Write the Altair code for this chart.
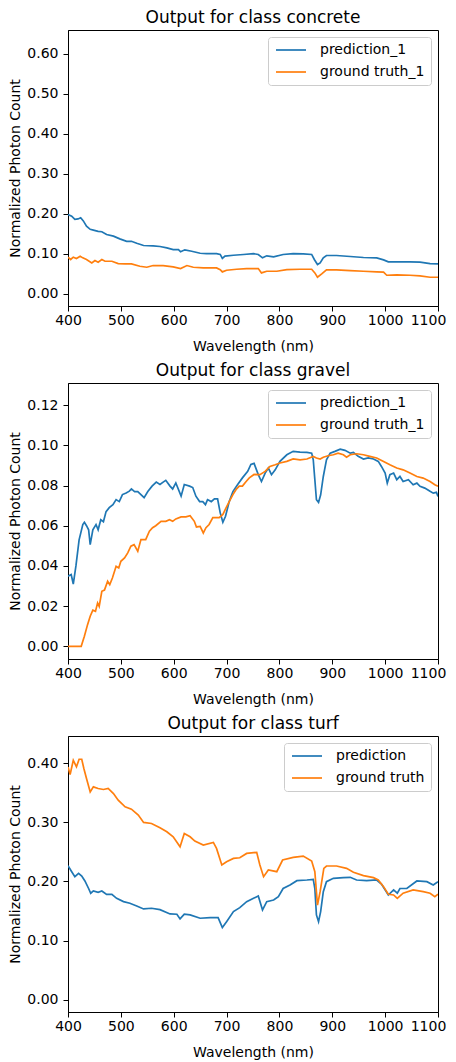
import altair as alt
import pandas as pd

BLUE = "#1f77b4"
ORANGE = "#ff7f0e"
FONT = "DejaVu Sans"

# ---------- concrete ----------
concrete_pred_wl = [400, 407, 413, 419, 424, 429, 435, 442, 448, 457, 464, 473, 486, 498, 511, 520, 530, 543, 561, 574,
                    587, 599, 609, 613, 621, 634, 650, 662, 681, 688, 692, 697, 713, 732, 751, 760, 768, 776, 789, 807,
                    826, 845, 861, 866, 872, 877, 883, 889, 908, 934, 959, 984, 997, 1006, 1022, 1047, 1066, 1085, 1100]
concrete_pred = [0.198, 0.194, 0.186, 0.187, 0.190, 0.182, 0.169, 0.161, 0.159, 0.156, 0.155, 0.148, 0.144, 0.137, 0.131,
                 0.131, 0.126, 0.1205, 0.1197, 0.118, 0.1146, 0.110, 0.110, 0.1046, 0.1096, 0.106, 0.101, 0.100, 0.100,
                 0.098, 0.088, 0.094, 0.096, 0.098, 0.100, 0.098, 0.0895, 0.0946, 0.092, 0.098, 0.100, 0.0996, 0.098,
                 0.0854, 0.0728, 0.077, 0.0895, 0.0954, 0.0954, 0.0929, 0.0904, 0.0895, 0.0845, 0.0795, 0.0795, 0.0795,
                 0.0787, 0.0753, 0.0745]
concrete_gt_wl = [400, 405, 410, 416, 423, 428, 435, 445, 451, 457, 464, 470, 483, 495, 508, 520, 536, 549, 561, 580,
                  599, 613, 625, 637, 656, 681, 688, 692, 700, 719, 738, 760, 766, 776, 795, 814, 839, 861, 867, 872,
                  880, 889, 908, 934, 959, 984, 997, 1003, 1022, 1047, 1066, 1085, 1100]
concrete_gt = [0.0912, 0.0854, 0.0912, 0.0879, 0.0937, 0.0895, 0.0854, 0.077, 0.0828, 0.0787, 0.0854, 0.081, 0.081,
               0.0753, 0.0745, 0.0745, 0.0686, 0.066, 0.0703, 0.0703, 0.067, 0.0628, 0.0703, 0.066, 0.0644, 0.0644,
               0.060, 0.0544, 0.0586, 0.061, 0.0628, 0.0628, 0.0519, 0.056, 0.056, 0.060, 0.061, 0.061, 0.0519, 0.041,
               0.0494, 0.0594, 0.0594, 0.0577, 0.056, 0.0544, 0.0536, 0.046, 0.0469, 0.046, 0.0444, 0.041, 0.041]

# ---------- gravel ----------
gravel_pred_wl = [400, 406, 410, 415, 421, 428, 431, 435, 439, 442, 447, 453, 457, 462, 467, 472, 478, 485, 491, 497,
                  503, 510, 516, 520, 526, 532, 538, 544, 551, 559, 567, 574, 580, 585, 593, 598, 604, 614, 620, 630,
                  636, 642, 649, 655, 660, 664, 671, 677, 683, 688, 693, 698, 705, 712, 721, 730, 740, 746, 752, 760,
                  766, 773, 779, 785, 792, 801, 814, 826, 839, 852, 861, 864, 867, 870, 874, 878, 883, 889, 896, 905,
                  915, 924, 934, 940, 949, 959, 968, 978, 987, 993, 1000, 1004, 1009, 1016, 1022, 1028, 1034, 1044,
                  1053, 1060, 1066, 1075, 1085, 1091, 1097, 1100]
gravel_pred = [0.0349, 0.0357, 0.031, 0.040, 0.053, 0.0606, 0.0617, 0.060, 0.058, 0.0506, 0.058, 0.0606, 0.058, 0.063,
               0.062, 0.067, 0.069, 0.0705, 0.073, 0.072, 0.0755, 0.0763, 0.0772, 0.0783, 0.077, 0.077, 0.0755, 0.074,
               0.077, 0.0797, 0.0817, 0.0805, 0.0817, 0.0826, 0.0797, 0.0783, 0.0813, 0.0747, 0.0805, 0.0797, 0.079,
               0.0747, 0.072, 0.072, 0.0705, 0.073, 0.072, 0.0734, 0.0734, 0.0664, 0.0617, 0.0647, 0.072, 0.077,
               0.0805, 0.0838, 0.0871, 0.0905, 0.091, 0.0854, 0.082, 0.0862, 0.0887, 0.0854, 0.0878, 0.092, 0.0953,
               0.097, 0.0966, 0.0965, 0.0961, 0.0928, 0.0829, 0.0729, 0.0716, 0.0754, 0.0845, 0.0928, 0.0961, 0.097,
               0.0981, 0.0975, 0.0961, 0.0965, 0.0945, 0.0932, 0.0937, 0.0932, 0.092, 0.0895, 0.0862, 0.0812, 0.0854,
               0.0862, 0.0829, 0.0845, 0.082, 0.0829, 0.0804, 0.0812, 0.0796, 0.0787, 0.0771, 0.0762, 0.0766, 0.0746]
gravel_gt_wl = [400, 410, 420, 425, 428, 431, 437, 442, 447, 452, 456, 459, 464, 469, 475, 479, 484, 491, 496, 500,
                507, 513, 519, 525, 532, 538, 547, 554, 560, 566, 576, 585, 592, 598, 604, 614, 623, 631, 639, 643,
                650, 656, 661, 667, 674, 680, 686, 693, 699, 705, 712, 718, 724, 730, 737, 743, 752, 763, 773, 782,
                792, 801, 814, 826, 839, 852, 864, 870, 877, 883, 892, 902, 911, 921, 927, 934, 946, 959, 971, 984,
                997, 1009, 1022, 1034, 1047, 1060, 1072, 1085, 1094, 1100]
gravel_gt = [0.0, 0.0, 0.0, 0.0, 0.0025, 0.005, 0.0108, 0.015, 0.018, 0.0174, 0.0216, 0.0199, 0.0274, 0.028, 0.0324,
             0.0307, 0.034, 0.0398, 0.039, 0.0423, 0.044, 0.0465, 0.0498, 0.0506, 0.0473, 0.0531, 0.0531, 0.0573,
             0.059, 0.060, 0.0622, 0.0622, 0.063, 0.0622, 0.0634, 0.0644, 0.0644, 0.065, 0.0622, 0.0594, 0.0597,
             0.0564, 0.059, 0.0606, 0.064, 0.064, 0.064, 0.0656, 0.0689, 0.072, 0.0755, 0.078, 0.0797, 0.0797, 0.082,
             0.0838, 0.0855, 0.0854, 0.087, 0.0895, 0.0903, 0.0912, 0.092, 0.0932, 0.0928, 0.0932, 0.0945, 0.0937,
             0.0932, 0.0941, 0.0948, 0.0953, 0.0961, 0.0953, 0.0941, 0.0953, 0.0958, 0.0953, 0.0945, 0.0937, 0.092,
             0.0903, 0.0887, 0.0878, 0.0862, 0.0845, 0.0837, 0.082, 0.0804, 0.0796]

# ---------- turf ----------
turf_pred_wl = [400, 407, 413, 420, 426, 432, 439, 443, 448, 457, 464, 473, 483, 492, 505, 517, 530, 543, 558, 574,
                593, 606, 612, 620, 631, 650, 669, 684, 692, 700, 713, 725, 738, 751, 760, 768, 776, 789, 798, 807,
                820, 833, 852, 864, 867, 870, 874, 878, 883, 889, 902, 921, 934, 946, 965, 984, 993, 1006, 1016, 1023,
                1028, 1041, 1060, 1079, 1091, 1100]
turf_pred = [0.2265, 0.2164, 0.208, 0.2136, 0.209, 0.2007, 0.188, 0.180, 0.184, 0.1816, 0.1838, 0.178, 0.178, 0.1714,
             0.1658, 0.163, 0.1585, 0.1535, 0.1546, 0.1523, 0.145, 0.1445, 0.1366, 0.1445, 0.1433, 0.1377, 0.1388,
             0.1388, 0.122, 0.132, 0.149, 0.1557, 0.1658, 0.1714, 0.1754, 0.1518, 0.1658, 0.1686, 0.1743, 0.188,
             0.194, 0.2012, 0.2024, 0.2035, 0.188, 0.1433, 0.132, 0.149, 0.1827, 0.1996, 0.2052, 0.2063, 0.2069,
             0.2024, 0.2012, 0.2024, 0.1956, 0.177, 0.1855, 0.180, 0.188, 0.188, 0.2007, 0.1996, 0.194, 0.1996]
turf_gt_wl = [400, 404, 410, 416, 421, 426, 430, 435, 442, 448, 457, 467, 476, 486, 495, 508, 520, 533, 543, 558,
              574, 587, 599, 612, 620, 631, 640, 656, 675, 681, 691, 700, 713, 725, 738, 757, 763, 770, 779, 795,
              806, 826, 845, 861, 867, 872, 877, 884, 889, 908, 927, 940, 959, 978, 987, 997, 1006, 1016, 1023, 1034,
              1053, 1072, 1085, 1094, 1100]
turf_gt = [0.3935, 0.3806, 0.4047, 0.3935, 0.4064, 0.4064, 0.3907, 0.3738, 0.3513, 0.3598, 0.357, 0.3553, 0.357,
           0.3485, 0.3373, 0.326, 0.322, 0.312, 0.2996, 0.2979, 0.2906, 0.2839, 0.2754, 0.2586, 0.281, 0.2754, 0.2681,
           0.2614, 0.2659, 0.2558, 0.2277, 0.2333, 0.2389, 0.240, 0.2473, 0.249, 0.2277, 0.208, 0.2192, 0.2164,
           0.2361, 0.2406, 0.2428, 0.2344, 0.2164, 0.160, 0.1827, 0.222, 0.226, 0.226, 0.222, 0.2153, 0.2097, 0.2063,
           0.2024, 0.1911, 0.1782, 0.1771, 0.1714, 0.180, 0.1855, 0.1827, 0.180, 0.1743, 0.1782]

x_ticks = [400, 500, 600, 700, 800, 900, 1000, 1100]


def panel(title, wl_p, v_p, wl_g, v_g, labels, ydomain, yticks):
    df = pd.DataFrame({
        "wl": wl_p + wl_g,
        "val": v_p + v_g,
        "series": [labels[0]] * len(wl_p) + [labels[1]] * len(wl_g),
    })
    return alt.Chart(df, title=alt.Title(title)).mark_line(strokeWidth=1.7, clip=True).encode(
        x=alt.X("wl:Q", scale=alt.Scale(domain=[400, 1100], nice=False, zero=False),
                axis=alt.Axis(values=x_ticks, format="d", title="Wavelength (nm)",
                              labelOverlap=False, labelFlush=False,
                              labelOffset={"condition": {"test": "datum.value == 1100", "value": -10},
                                           "value": 0})),
        y=alt.Y("val:Q", scale=alt.Scale(domain=ydomain, nice=False, zero=False),
                axis=alt.Axis(values=yticks, format=".2f", title="Normalized Photon Count",
                              labelOverlap=False, labelFlush=False)),
        color=alt.Color("series:N", scale=alt.Scale(domain=labels, range=[BLUE, ORANGE]),
                        legend=alt.Legend(title=None, orient="top-right", offset=7)),
        detail="series:N",
    ).properties(width=370, height=276)


p1 = panel("Output for class concrete", concrete_pred_wl, concrete_pred, concrete_gt_wl, concrete_gt,
           ["prediction_1", "ground truth_1"], [-0.031, 0.66], [0.0, 0.1, 0.2, 0.3, 0.4, 0.5, 0.6])
p2 = panel("Output for class gravel", gravel_pred_wl, gravel_pred, gravel_gt_wl, gravel_gt,
           ["prediction_1", "ground truth_1"], [-0.0063, 0.131], [0.0, 0.02, 0.04, 0.06, 0.08, 0.10, 0.12])
p3 = panel("Output for class turf", turf_pred_wl, turf_pred, turf_gt_wl, turf_gt,
           ["prediction", "ground truth"], [-0.0207, 0.4457], [0.0, 0.1, 0.2, 0.3, 0.4])

chart = alt.vconcat(p1, p2, p3, spacing=7).resolve_scale(color="independent").properties(
    padding={"left": 0, "top": 0, "right": 0, "bottom": 0}
).configure_axis(
    labelFont=FONT, titleFont=FONT, labelFontSize=14, titleFontSize=14, titleFontWeight="normal",
    labelColor="black", titleColor="black", domainColor="black", tickColor="black",
    domainWidth=1, tickWidth=1, tickSize=5, grid=False,
).configure_axisX(labelPadding=2, titlePadding=12).configure_axisY(labelPadding=5, titlePadding=4).configure_view(
    stroke="black", strokeWidth=1
).configure_title(
    font=FONT, fontSize=17, fontWeight="normal", color="black", offset=3, anchor="middle"
).configure_legend(
    labelFont=FONT, labelFontSize=14, labelColor="black", symbolType="M-1,0L5,0", symbolSize=100,
    symbolStrokeWidth=1.7, padding=6, rowPadding=8, labelOffset=32,
    fillColor="rgba(255,255,255,0.8)", strokeColor="#cccccc", cornerRadius=3,
)

chart.save("out.html", embed_options={"renderer": "svg", "actions": False})
